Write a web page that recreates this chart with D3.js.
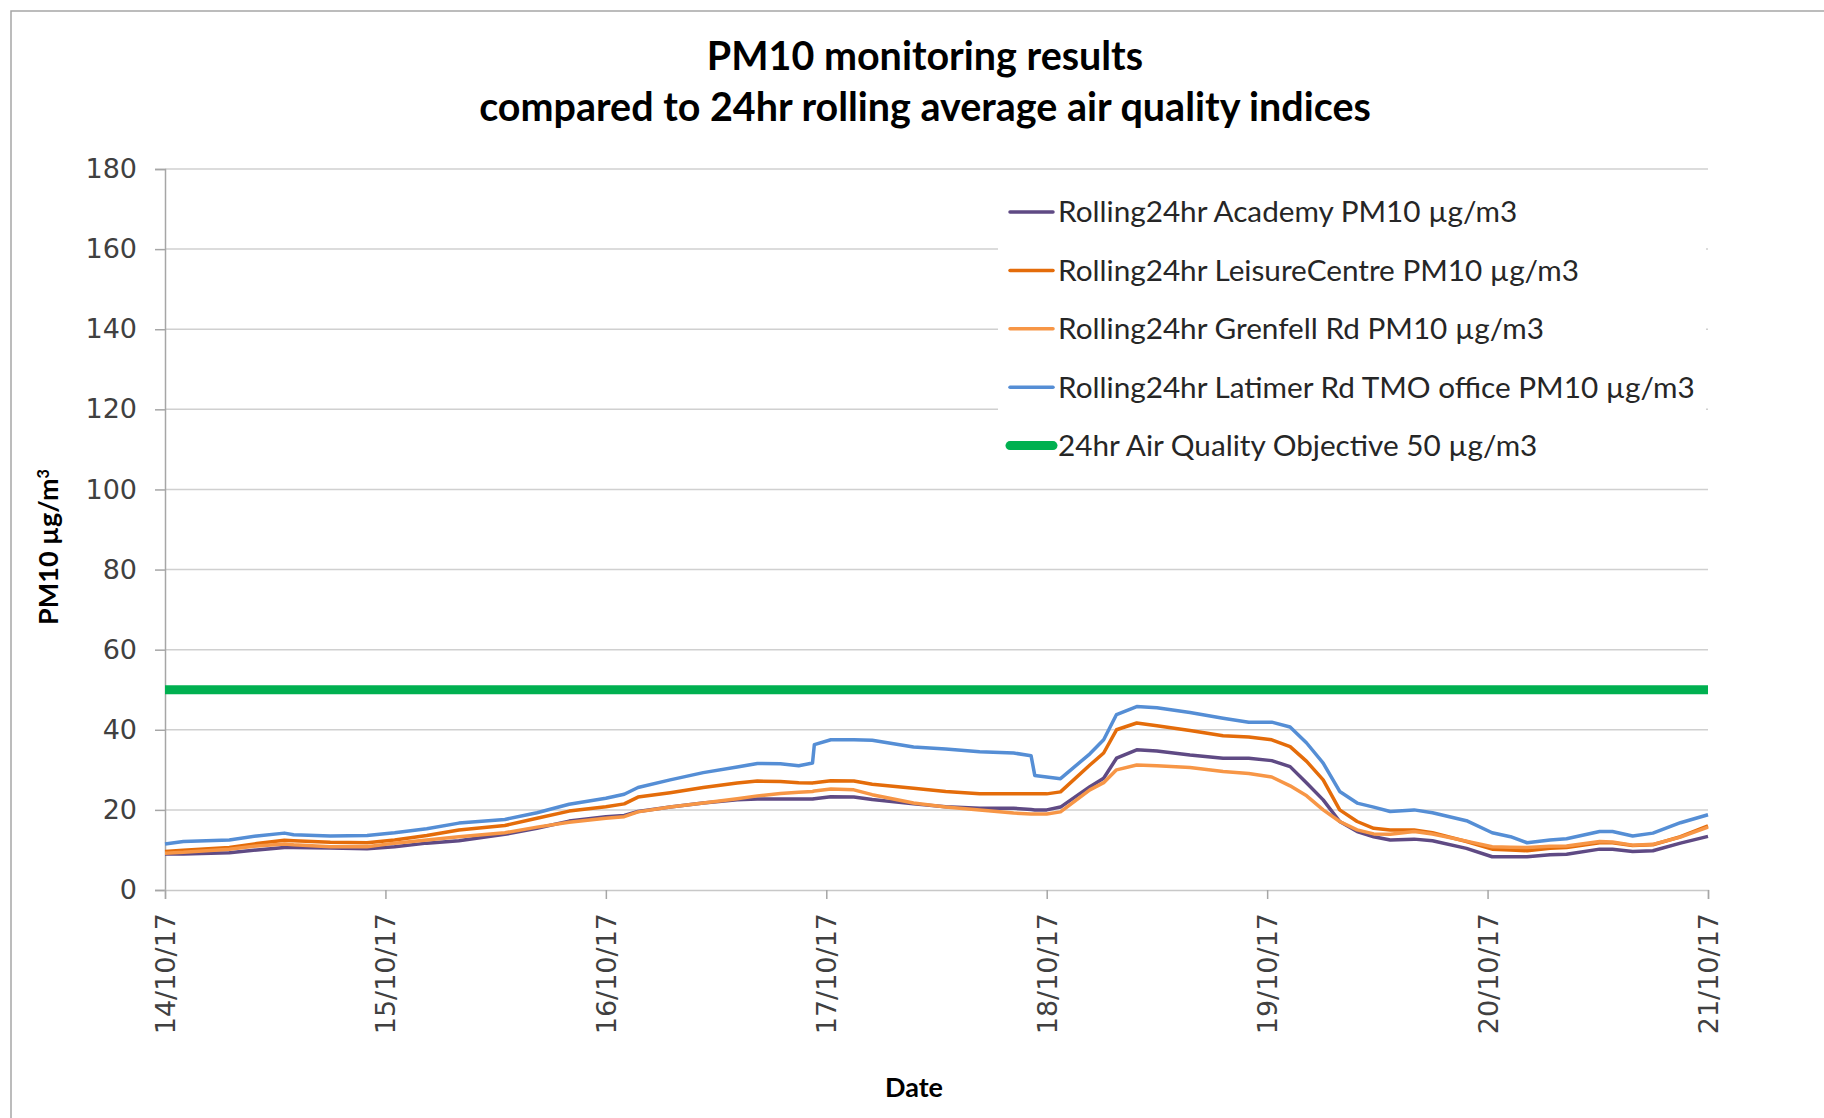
<!DOCTYPE html>
<html>
<head>
<meta charset="utf-8">
<script src="https://cdn.jsdelivr.net/npm/d3@7"></script>
<style>
  html, body { margin: 0; padding: 0; background: #ffffff; }
  svg { display: block; }
</style>
</head>
<body>
<script>
// ---------------- DATA ----------------
const startDate = "2017-10-14T00:00:00Z";
const endDate = "2017-10-21T00:00:00Z";

// hours since 14/10/17 00:00
const hours = [0, 2, 7, 10, 13, 14, 18, 22, 25, 28.5, 32, 37, 40.5, 44, 48, 50, 51.5, 55, 58.6, 62.3, 64.5, 67, 69, 70.5, 70.7, 72.5, 75, 77, 81.5, 85, 88.7, 92.4, 94.3, 94.7, 96, 97.5, 100.7, 102.2, 103.6, 105.8, 108, 111.6, 115.2, 118, 120.5, 122.5, 124.3, 126.1, 127.9, 129.8, 131.6, 133.4, 136, 138, 141.7, 144.5, 146.5, 148.3, 150.8, 152.6, 156.2, 157.6, 159.8, 162, 165, 168];

const academy = [9.0, 9.0, 9.3, 10.0, 10.6, 10.6, 10.5, 10.3, 10.8, 11.7, 12.3, 13.9, 15.4, 17.2, 18.3, 18.6, 19.6, 20.7, 21.7, 22.5, 22.7, 22.7, 22.7, 22.7, 22.8, 23.3, 23.2, 22.6, 21.5, 20.8, 20.4, 20.4, 20.1, 20.0, 20.0, 20.7, 25.8, 27.9, 32.9, 35.0, 34.7, 33.7, 32.9, 32.9, 32.3, 30.8, 26.7, 22.5, 17.1, 14.6, 13.3, 12.5, 12.7, 12.3, 10.4, 8.3, 8.3, 8.3, 8.8, 8.9, 10.2, 10.2, 9.6, 9.8, 11.7, 13.4];

const leisureCentre = [9.6, 9.9, 10.6, 11.6, 12.4, 12.3, 11.9, 11.8, 12.5, 13.6, 15.0, 16.1, 17.9, 19.7, 20.8, 21.5, 23.2, 24.3, 25.6, 26.7, 27.2, 27.1, 26.8, 26.7, 26.8, 27.3, 27.2, 26.4, 25.4, 24.6, 24.0, 24.0, 24.0, 24.0, 24.0, 24.5, 31.2, 34.2, 40.0, 41.7, 41.0, 39.8, 38.5, 38.2, 37.5, 35.8, 32.1, 27.5, 20.0, 17.1, 15.4, 15.0, 15.0, 14.3, 12.1, 10.2, 10.0, 9.8, 10.4, 10.6, 11.8, 11.8, 11.1, 11.3, 13.3, 16.0];

const grenfell = [9.2, 9.4, 10.2, 11.0, 11.5, 11.3, 10.8, 10.8, 11.7, 12.5, 13.3, 14.3, 15.7, 16.9, 17.9, 18.3, 19.5, 20.7, 21.7, 22.8, 23.5, 24.1, 24.4, 24.6, 24.7, 25.2, 25.0, 23.8, 21.7, 20.7, 20.0, 19.2, 19.0, 19.0, 19.0, 19.5, 25.0, 26.8, 30.0, 31.2, 31.0, 30.6, 29.6, 29.1, 28.2, 26.0, 23.5, 20.0, 17.1, 15.0, 14.0, 13.9, 14.6, 14.0, 12.2, 10.8, 10.7, 10.6, 10.9, 11.0, 12.1, 12.0, 11.2, 11.4, 13.2, 15.7];

const latimer = [11.5, 12.1, 12.5, 13.5, 14.2, 13.8, 13.5, 13.6, 14.3, 15.3, 16.7, 17.6, 19.3, 21.4, 22.9, 23.9, 25.6, 27.5, 29.3, 30.7, 31.6, 31.5, 31.0, 31.7, 36.3, 37.5, 37.5, 37.4, 35.7, 35.2, 34.5, 34.2, 33.5, 28.6, 28.2, 27.8, 34.0, 37.5, 43.8, 45.8, 45.5, 44.3, 42.9, 41.9, 41.9, 40.7, 36.7, 31.7, 24.6, 21.7, 20.7, 19.6, 20.0, 19.3, 17.3, 14.3, 13.3, 11.8, 12.5, 12.8, 14.6, 14.6, 13.5, 14.2, 16.8, 18.8];

const objectiveValue = 50;

const seriesNames = [
  "Rolling24hr Academy PM10 µg/m3",
  "Rolling24hr LeisureCentre PM10 µg/m3",
  "Rolling24hr Grenfell Rd PM10 µg/m3",
  "Rolling24hr Latimer Rd TMO office PM10 µg/m3"
];
const objectiveName = "24hr Air Quality Objective 50 µg/m3";
const yTicks = [0, 20, 40, 60, 80, 100, 120, 140, 160, 180];
const titleLines = ["PM10 monitoring results", "compared to 24hr rolling average air quality indices"];

// ---------------- LAYOUT ----------------
const W = 1824, H = 1118;
const plot = { left: 165, right: 1708, top: 169, bottom: 890 };
const colors = ["#5F4A84", "#E46C0A", "#F79646", "#558ED5"];
const green = "#00B050";

const svg = d3.select("body").append("svg").attr("width", W).attr("height", H);

// outer chart border
svg.append("rect").attr("x", 11).attr("y", 11).attr("width", W).attr("height", H)
  .attr("fill", "#fff").attr("stroke", "#A6A6A6").attr("stroke-width", 1.5);

const t0 = new Date(startDate);
const toDate = h => new Date(t0.getTime() + h * 3600 * 1000);

const x = d3.scaleUtc().domain([t0, new Date(endDate)]).range([plot.left, plot.right]);
const y = d3.scaleLinear().domain([0, 180]).range([plot.bottom, plot.top]);

// gridlines
svg.append("g").selectAll("line").data(yTicks.filter(d => d > 0)).join("line")
  .attr("x1", plot.left).attr("x2", plot.right)
  .attr("y1", d => y(d)).attr("y2", d => y(d))
  .attr("stroke", "#D0D0D0").attr("stroke-width", 1.5);

// y axis
const yAxis = svg.append("g").attr("transform", `translate(${plot.left},0)`)
  .call(d3.axisLeft(y).tickValues(yTicks).tickSize(10).tickPadding(18));
yAxis.select(".domain").attr("stroke", "#A6A6A6").attr("stroke-width", 1.5);
yAxis.selectAll(".tick line").attr("stroke", "#A6A6A6").attr("stroke-width", 1.5);
yAxis.selectAll(".tick text").attr("font-family", "DejaVu Sans").attr("font-size", 27)
  .attr("fill", "#404040");

// x axis
const xAxis = svg.append("g").attr("transform", `translate(0,${plot.bottom})`)
  .call(d3.axisBottom(x).ticks(d3.utcDay.every(1)).tickFormat(d3.utcFormat("%d/%m/%y")).tickSize(9));
xAxis.select(".domain").attr("stroke", "#C8C8C8").attr("stroke-width", 1.5);
xAxis.selectAll(".tick line").attr("stroke", "#A6A6A6").attr("stroke-width", 1.5);
xAxis.selectAll(".tick text")
  .attr("font-family", "DejaVu Sans").attr("font-size", 27).attr("fill", "#404040")
  .attr("transform", "rotate(-90)")
  .attr("text-anchor", "end").attr("x", -23).attr("y", 0).attr("dy", "0.35em");

// series
const allSeries = [academy, leisureCentre, grenfell, latimer];
const line = d3.line().x((d, i) => x(toDate(hours[i]))).y(d => y(d));
svg.append("g").selectAll("path").data(allSeries).join("path")
  .attr("d", d => line(d))
  .attr("fill", "none")
  .attr("stroke", (d, i) => colors[i])
  .attr("stroke-width", 3.5)
  .attr("stroke-linejoin", "round");

// objective line
svg.append("line")
  .attr("x1", x(t0)).attr("x2", x(new Date(endDate)))
  .attr("y1", y(objectiveValue)).attr("y2", y(objectiveValue))
  .attr("stroke", green).attr("stroke-width", 9);

// legend
const fitFont = (sel, target) => {
  const w = sel.node().getComputedTextLength();
  const fs = parseFloat(sel.attr("font-size"));
  return fs * target / w;
};
const legend = svg.append("g");
legend.append("rect").attr("x", 998).attr("y", 182).attr("width", 708).attr("height", 294).attr("fill", "#fff");
const legendItems = seriesNames.map((n, i) => ({ name: n, color: colors[i], width: 3.5 }))
  .concat([{ name: objectiveName, color: green, width: 9 }]);
const legendRows = legendItems.map((d, i) => 212 + i * 58.4);
const lg = legend.selectAll("g.item").data(legendItems).join("g").attr("class", "item")
  .attr("transform", (d, i) => `translate(0,${legendRows[i]})`);
lg.append("line").attr("x1", 1010).attr("x2", 1053).attr("y1", 0).attr("y2", 0)
  .attr("stroke", d => d.color).attr("stroke-width", d => d.width).attr("stroke-linecap", "round");
const lt = lg.append("text").attr("x", 1058).attr("dy", "0.35em")
  .attr("font-family", "Lato").attr("font-size", 26).attr("fill", "#262626")
  .text(d => d.name);
const legFs = fitFont(d3.select(lt.nodes()[3]), 637);
lt.attr("font-size", legFs);

// title
const tt = svg.append("g").selectAll("text").data(titleLines).join("text")
  .attr("x", 925).attr("y", (d, i) => [56, 107][i]).attr("dy", "0.35em")
  .attr("text-anchor", "middle").attr("font-family", "Lato").attr("font-weight", "bold")
  .attr("font-size", 32).attr("fill", "#000").text(d => d);
const titleFs = fitFont(d3.select(tt.nodes()[1]), 892);
tt.attr("font-size", titleFs);

// y axis title
const yt = svg.append("text")
  .attr("transform", "translate(49,547) rotate(-90)")
  .attr("text-anchor", "middle").attr("dy", "0.35em")
  .attr("font-family", "Lato").attr("font-weight", "bold").attr("font-size", 24).attr("fill", "#000");
yt.append("tspan").text("PM10 µg/m");
yt.append("tspan").attr("baseline-shift", "super").attr("font-size", "60%").text("3");
const ytFs = 24 * 156 / yt.node().getComputedTextLength();
yt.attr("font-size", ytFs);

// x axis title
svg.append("text").attr("x", 914).attr("y", 1088).attr("dy", "0.35em")
  .attr("text-anchor", "middle").attr("font-family", "Lato").attr("font-weight", "bold")
  .attr("font-size", ytFs).attr("fill", "#000").text("Date");
</script>
</body>
</html>
